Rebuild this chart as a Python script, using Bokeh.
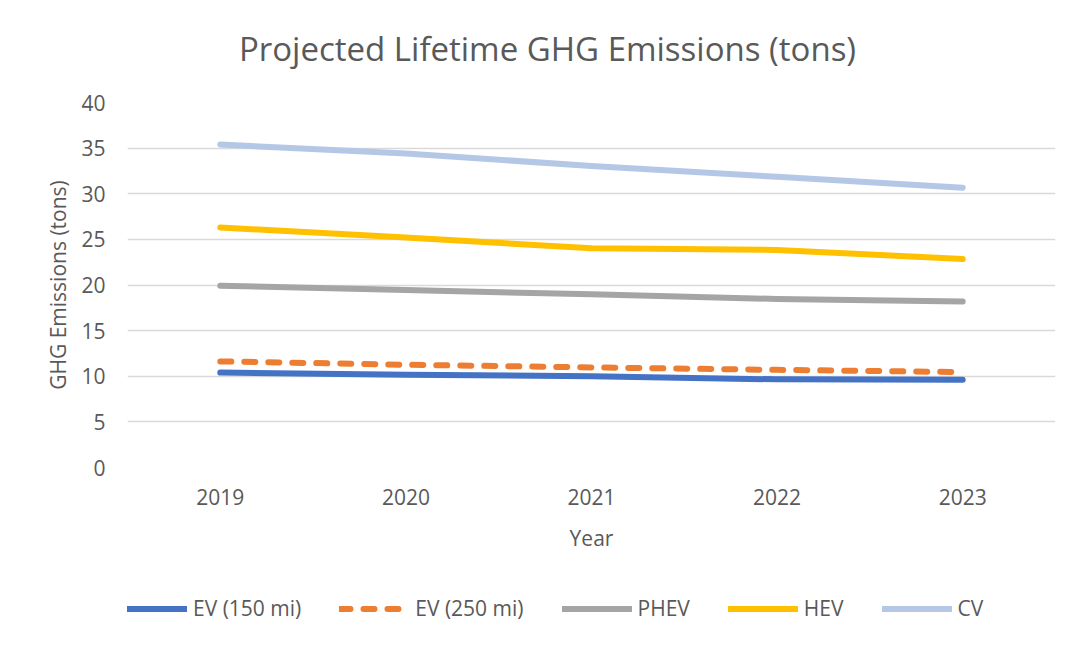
from bokeh.plotting import figure
from bokeh.layouts import column
from bokeh.models import FixedTicker, Legend, LegendItem, Label
from bokeh.embed import file_html
from bokeh.resources import INLINE

years = ["2019", "2020", "2021", "2022", "2023"]
ev150 = [10.4, 10.17, 10.0, 9.66, 9.62]
ev250 = [11.63, 11.26, 10.97, 10.7, 10.46]
phev = [19.93, 19.45, 18.98, 18.47, 18.2]
hev = [26.3, 25.2, 24.02, 23.84, 22.85]
cv = [35.4, 34.4, 33.05, 31.85, 30.67]

series_names = ["EV (150 mi)", "EV (250 mi)", "PHEV", "HEV", "CV"]
series_values = [ev150, ev250, phev, hev, cv]
colors = ["#4472C4", "#ED7D31", "#A5A5A5", "#FFC000", "#B4C7E7"]
dashes = ["solid", "11 13", "solid", "solid", "solid"]
title_text = "Projected Lifetime GHG Emissions (tons)"

FONT = "Open Sans"
TXT = "#595959"
W = 1067


def blank(height, **kw):
    f = figure(width=W, height=height, output_backend="svg", toolbar_location=None,
               x_axis_location=None, y_axis_location=None,
               min_border_left=0, min_border_right=0,
               min_border_top=0, min_border_bottom=0, **kw)
    f.outline_line_color = None
    f.grid.visible = False
    f.background_fill_color = "white"
    f.border_fill_color = "white"
    return f


# title strip
tf = blank(70, x_range=(0, 1), y_range=(0, 1))
tf.add_layout(Label(x=420, y=22, x_units="screen", y_units="screen", text=title_text,
                    text_align="center", text_baseline="middle",
                    text_font=FONT, text_font_size="33px", text_color=TXT))

# main chart
p = figure(x_range=years, y_range=(0, 40), width=W, height=500,
           output_backend="svg", toolbar_location=None,
           min_border_left=127, min_border_right=12, min_border_top=32, min_border_bottom=103)
p.outline_line_color = None
p.background_fill_color = "white"
p.border_fill_color = "white"

p.xgrid.grid_line_color = None
p.ygrid.grid_line_color = "#D9D9D9"
p.ygrid.grid_line_width = 1.5

p.yaxis.ticker = FixedTicker(ticks=[0, 5, 10, 15, 20, 25, 30, 35, 40])
for ax in (p.xaxis[0], p.yaxis[0]):
    ax.axis_line_color = None
    ax.major_tick_line_color = None
    ax.minor_tick_line_color = None
    ax.major_tick_out = 0
    ax.major_tick_in = 0
    ax.major_label_text_font = FONT
    ax.major_label_text_font_size = "21px"
    ax.major_label_text_color = TXT
    ax.axis_label_text_font = FONT
    ax.axis_label_text_font_size = "21px"
    ax.axis_label_text_font_style = "normal"
    ax.axis_label_text_color = TXT

p.yaxis.axis_label = "GHG Emissions (tons)"
p.yaxis.major_label_standoff = 22
p.yaxis.axis_label_standoff = 6
p.xaxis.axis_label = "Year"
p.xaxis.major_label_standoff = 21
p.xaxis.axis_label_standoff = 16

for vals, c, d in zip(series_values, colors, dashes):
    p.line(years, vals, line_color=c, line_width=6, line_cap="round",
           line_join="round", line_dash=d)

# legend strip below the chart (series drawn outside its visible range)
lg = blank(68, x_range=years, y_range=(100, 101))
items = []
for name, vals, c, d in zip(series_names, series_values, colors, dashes):
    r = lg.line(years, vals, line_color=c, line_width=6, line_cap="round",
                line_join="round", line_dash=d)
    items.append(LegendItem(label=name, renderers=[r]))

legend = Legend(items=items, orientation="horizontal", location=(-10, 16),
                glyph_width=70, glyph_height=25, label_height=25,
                label_standoff=6, spacing=38, padding=0, margin=0,
                border_line_color=None, background_fill_alpha=0,
                label_text_font=FONT, label_text_font_size="21px",
                label_text_color=TXT)
lg.add_layout(legend, "center")

layout = column(tf, p, lg, spacing=0)
open("out.html", "w").write(file_html(layout, INLINE))
